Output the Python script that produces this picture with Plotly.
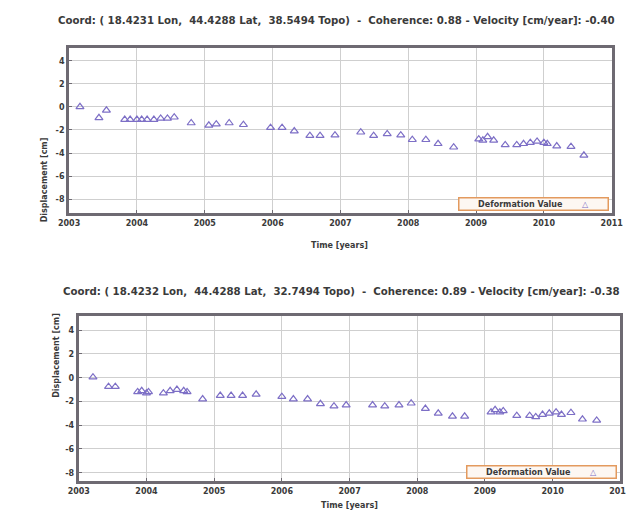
import plotly.graph_objects as go

# ---- data (decimal years, displacement in cm) ----
t_top = [2003.16, 2003.44, 2003.55, 2003.82, 2003.90, 2004.00, 2004.07, 2004.15, 2004.25,
         2004.35, 2004.45, 2004.55, 2004.80, 2005.06, 2005.17, 2005.36, 2005.57, 2005.97,
         2006.14, 2006.32, 2006.55, 2006.70, 2006.92, 2007.30, 2007.49, 2007.69, 2007.89,
         2008.06, 2008.26, 2008.44, 2008.67, 2009.04, 2009.10, 2009.17, 2009.26, 2009.43,
         2009.60, 2009.70, 2009.80, 2009.90, 2010.00, 2010.05, 2010.19, 2010.40, 2010.59]
d_top = [0.0, -0.95, -0.3, -1.1, -1.1, -1.1, -1.1, -1.1, -1.1,
         -1.0, -1.0, -0.9, -1.4, -1.6, -1.5, -1.4, -1.55, -1.8,
         -1.8, -2.1, -2.5, -2.5, -2.45, -2.2, -2.5, -2.35, -2.45,
         -2.85, -2.85, -3.2, -3.5, -2.8, -2.9, -2.6, -2.9, -3.3,
         -3.3, -3.2, -3.1, -3.0, -3.1, -3.2, -3.4, -3.45, -4.2]

t_bot = [2003.21, 2003.44, 2003.54, 2003.87, 2003.93, 2004.00, 2004.03, 2004.25, 2004.35,
         2004.45, 2004.55, 2004.60, 2004.83, 2005.09, 2005.25, 2005.42, 2005.62, 2006.00,
         2006.17, 2006.38, 2006.57, 2006.77, 2006.95, 2007.34, 2007.52, 2007.73, 2007.91,
         2008.12, 2008.31, 2008.52, 2008.70, 2009.09, 2009.15, 2009.22, 2009.27, 2009.47,
         2009.66, 2009.75, 2009.85, 2009.95, 2010.05, 2010.13, 2010.27, 2010.44, 2010.65]
d_bot = [0.05, -0.75, -0.75, -1.2, -1.1, -1.3, -1.2, -1.3, -1.1,
         -1.0, -1.1, -1.2, -1.8, -1.5, -1.5, -1.5, -1.4, -1.6,
         -1.8, -1.8, -2.2, -2.4, -2.3, -2.3, -2.4, -2.3, -2.15,
         -2.6, -3.0, -3.25, -3.25, -2.9, -2.7, -2.9, -2.8, -3.2,
         -3.2, -3.3, -3.1, -3.0, -2.9, -3.1, -2.95, -3.5, -3.6]

year_ticks = [2003, 2004, 2005, 2006, 2007, 2008, 2009, 2010, 2011]
disp_ticks = [4, 2, 0, -2, -4, -6, -8]

title_top = "Coord: ( 18.4231 Lon,  44.4288 Lat,  38.5494 Topo)  -  Coherence: 0.88 - Velocity [cm/year]: -0.40"
title_bot = "Coord: ( 18.4232 Lon,  44.4288 Lat,  32.7494 Topo)  -  Coherence: 0.89 - Velocity [cm/year]: -0.38"
legend_label = "Deformation Value"
x_title = "Time [years]"
y_title = "Displacement [cm]"

# ---- styling ----
W, H = 634, 510
MARK = "#7d6fc6"
FRAME = "#6e6a72"
GRID = "#cfcfcf"
FONT = dict(family="DejaVu Sans", size=8, color="#3a3a3a", weight="bold")
TFONT = dict(family="DejaVu Sans", size=10.2, color="#3a3a3a", weight="bold")

def px_x(p):
    return p / W

def px_y(p):
    return 1 - p / H

fig = go.Figure()
fig.add_trace(go.Scatter(x=t_top, y=d_top, mode="markers", xaxis="x", yaxis="y",
                         marker=dict(symbol="triangle-up-open", size=7, color=MARK,
                                     line=dict(width=1.2, color=MARK)),
                         name=legend_label, showlegend=False))
fig.add_trace(go.Scatter(x=t_bot, y=d_bot, mode="markers", xaxis="x2", yaxis="y2",
                         marker=dict(symbol="triangle-up-open", size=7, color=MARK,
                                     line=dict(width=1.2, color=MARK)),
                         name=legend_label, showlegend=False))

def xax(domain, anchor):
    return dict(domain=domain, anchor=anchor, range=[2003, 2011], tickvals=year_ticks,
                ticktext=[str(v) for v in year_ticks], showgrid=True, gridcolor=GRID,
                gridwidth=1, showline=True, mirror=True, linecolor=FRAME, linewidth=3,
                ticks="inside", ticklen=3, tickcolor=FRAME, zeroline=False,
                tickfont=FONT)

def yax(domain, anchor, rng):
    return dict(domain=domain, anchor=anchor, range=rng, tickvals=disp_ticks,
                ticktext=[str(v) for v in disp_ticks], showgrid=True, gridcolor=GRID,
                gridwidth=1, showline=True, mirror=True, linecolor=FRAME, linewidth=3,
                ticks="inside", ticklen=3, tickcolor=FRAME, zeroline=False, tickfont=FONT)

fig.update_layout(
    width=W, height=H, margin=dict(l=0, r=0, t=0, b=0),
    paper_bgcolor="white", plot_bgcolor="white", showlegend=False,
    xaxis=xax([px_x(52), px_x(615)], "y"),
    yaxis=yax([px_y(205), px_y(40)], "x", [-9.2, 5.1]),
    xaxis2=xax([px_x(62), px_x(624)], "y2"),
    yaxis2=yax([px_y(473), px_y(308)], "x2", [-8.7, 5.2]),
)

ann = []
ann.append(dict(text=title_top, x=px_x(38), y=px_y(12), xref="paper", yref="paper",
                xanchor="left", yanchor="middle", showarrow=False, font=TFONT))
ann.append(dict(text=title_bot, x=px_x(44), y=px_y(283), xref="paper", yref="paper",
                xanchor="left", yanchor="middle", showarrow=False, font=TFONT))
ann.append(dict(text=x_title, x=px_x(333), y=px_y(237), xref="paper", yref="paper",
                showarrow=False, font=FONT))
ann.append(dict(text=x_title, x=px_x(343), y=px_y(504), xref="paper", yref="paper",
                showarrow=False, font=FONT))
ann.append(dict(text=y_title, x=px_x(20), y=px_y(127), xref="paper", yref="paper",
                textangle=-90, showarrow=False, font=FONT))
ann.append(dict(text=y_title, x=px_x(32), y=px_y(392), xref="paper", yref="paper",
                textangle=-90, showarrow=False, font=FONT))
leg_text = legend_label + "&nbsp;&nbsp;&nbsp;&nbsp;&nbsp;&nbsp;&nbsp;<span style='color:%s'>△</span>" % MARK
ann.append(dict(text=leg_text, x=px_x(612), y=px_y(203), xref="paper", yref="paper",
                xanchor="right", yanchor="bottom", showarrow=False, font=FONT,
                bordercolor="#e39a5e", borderwidth=1.5, borderpad=1, bgcolor="#fdf7f2",
                width=146, align="center"))
ann.append(dict(text=leg_text, x=px_x(621), y=px_y(471), xref="paper", yref="paper",
                xanchor="right", yanchor="bottom", showarrow=False, font=FONT,
                bordercolor="#e39a5e", borderwidth=1.5, borderpad=1, bgcolor="#fdf7f2",
                width=146, align="center"))
fig.update_layout(annotations=ann)

fig.write_html("out.html")
